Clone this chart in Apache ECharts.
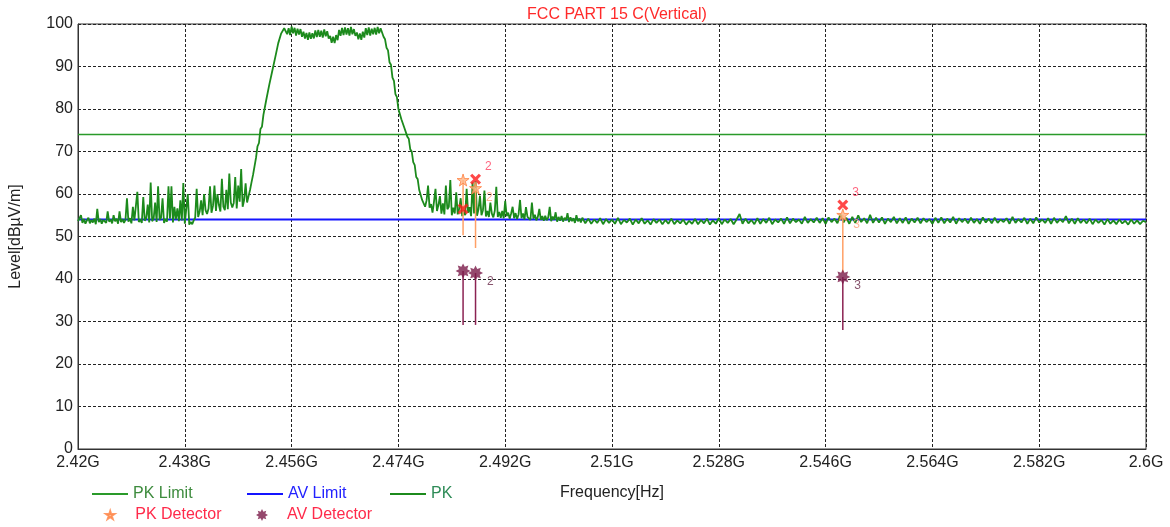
<!DOCTYPE html>
<html>
<head>
<meta charset="utf-8">
<script src="https://cdn.jsdelivr.net/npm/echarts@6/dist/echarts.min.js"></script>
<style>
html,body{margin:0;padding:0;background:#fff;}
#chart{width:1170px;height:527px;}
</style>
</head>
<body>
<div id="chart"></div>
<script>
// ---- data (frequencies in MHz, levels in dBuV/m) ----
// PK trace in four sweep segments (start MHz, step MHz, values)
const pkSegA = { start: 2420, step: 0.25 };
const pkValuesA = [
53.6, 54.3, 55.0, 53.2, 54.1, 53.0, 53.8, 54.4, 53.1, 53.9,
53.3, 54.2, 52.9, 56.5, 53.4, 54.1, 53.0, 53.9, 54.3, 53.2,
55.9, 53.5, 54.0, 53.1, 55.0, 53.6, 54.2, 53.0, 55.9, 53.4,
54.1, 53.2, 53.9, 59.0, 53.5, 54.3, 53.1, 57.0, 53.8, 54.2,
60.5, 53.4, 54.0, 53.2, 59.3, 53.7, 54.3, 57.5, 53.3, 62.7,
53.6, 54.2, 58.0, 53.4, 61.8, 53.9, 54.4, 59.0, 53.2, 54.1,
53.5, 61.8, 54.2, 61.8, 53.3, 57.0, 54.0, 56.6, 53.6, 58.5,
53.8, 62.6, 53.0, 52.7, 60.0, 52.8, 53.4, 52.9, 53.8, 54.4,
61.2, 54.6, 55.8, 58.5, 55.0, 60.0, 56.2, 55.3, 56.6, 61.8,
55.6, 57.2, 62.0, 56.0, 60.0, 57.4, 55.9, 63.6, 57.0, 56.2,
61.0, 56.4, 64.8, 58.0, 56.8, 57.9, 64.0, 56.6, 62.0, 58.2,
65.9, 57.0, 58.6, 62.5, 58.0, 59.5, 61.0, 62.8, 64.5, 66.5
];
const pkSegB = { start: 2450, step: 0.25 };
const pkValuesB = [
68.5, 71.2, 72.0, 75.3, 75.8, 78.6, 79.0, 82.3, 82.6, 85.8,
86.0, 89.0, 89.2, 92.2, 92.6, 95.5, 95.6, 97.8, 97.4, 99.0,
99.3, 97.6, 99.0, 97.4, 99.4, 97.8, 99.1, 97.3, 98.9, 97.5,
98.8, 97.0, 98.2, 96.6, 97.9, 96.3, 98.0, 96.5, 97.8, 96.6,
98.5, 96.9, 98.6, 97.0, 98.4, 96.8, 98.7, 97.1, 98.3, 96.6,
97.2, 95.6, 97.0, 95.5, 97.4, 96.2, 98.6, 97.2, 99.1, 97.4,
99.2, 97.5, 99.0, 97.3, 99.3, 97.6, 98.8, 97.2, 98.0, 96.4,
97.8, 96.3, 98.2, 96.8, 99.0, 97.4, 99.2, 97.3, 98.9, 97.6,
99.1, 97.5, 99.3, 97.8, 99.0, 98.6, 97.0, 96.4, 94.4, 93.8,
91.0, 90.4, 87.4, 86.6, 83.5, 82.8, 80.0, 79.8, 77.6, 77.4,
75.6, 75.4, 73.5, 73.0, 70.5, 70.0, 67.5, 66.8, 64.0, 63.5,
61.0, 60.6, 58.6, 58.4, 57.0, 58.5
];
const pkSegC = { start: 2479, step: 0.25 };
const pkValuesC = [
62.0, 56.8, 57.6, 55.6, 58.2, 61.2, 56.0, 57.4, 59.5, 55.4,
57.8, 55.2, 62.0, 56.4, 57.0, 63.3, 55.0, 56.8, 55.4, 60.4,
55.2, 56.6, 59.0, 54.8, 56.2, 55.0, 61.2, 55.6, 56.9, 54.8,
62.7, 55.4, 63.0, 54.9, 56.4, 59.6, 55.0, 56.2, 60.8, 54.7,
56.0, 54.6, 58.0, 55.4, 54.5, 56.1, 61.7, 54.6, 55.8, 54.4,
56.0, 54.3, 58.4, 54.8, 55.6, 54.2, 55.4, 57.0, 54.3, 55.5,
54.1, 55.2, 58.6, 54.3, 55.4, 54.0, 56.9, 54.6, 55.0, 53.9,
58.0, 54.2, 55.1, 53.8, 54.6, 56.5, 53.9, 54.8, 53.7, 54.9,
53.8, 54.5, 57.0, 53.6, 54.7, 53.9, 55.7, 53.5, 54.6, 53.7,
54.8, 53.5, 54.4, 53.8, 55.5, 53.4, 54.5, 53.6, 54.3, 53.2,
55.0, 53.6, 54.2, 53.3
];
const pkSegD = { start: 2505, step: 0.5 };
const pkValuesD = [
54.4, 53.1, 54.2, 53.0, 54.0, 53.2, 54.3, 52.9, 54.1, 53.2,
54.0, 53.0, 54.4, 52.9, 53.9, 53.3, 54.2, 52.8, 54.0, 53.1,
54.3, 53.0, 53.8, 52.8, 54.1, 53.2, 54.0, 52.9, 53.9, 53.0,
54.2, 52.9, 53.8, 53.1, 54.0, 52.8, 53.7, 53.0, 54.1, 52.9,
53.9, 53.1, 54.2, 52.8, 53.8, 53.0, 54.3, 52.9, 54.0, 53.2,
54.1, 52.9, 54.0, 55.3, 53.0, 54.2, 53.1, 53.9, 52.9, 54.3,
53.0, 54.1, 53.2, 54.4, 52.9, 54.0, 53.3, 54.2, 53.0, 54.5,
53.1, 54.2, 53.4, 54.0, 53.0, 54.6, 53.2, 54.1, 53.3, 54.4,
53.2, 54.3, 53.0, 54.5, 53.4, 54.2, 53.1, 55.2, 53.3, 54.4,
53.0, 54.6, 53.2, 55.0, 53.4, 54.3, 53.1, 55.1, 53.2, 54.4,
53.3, 54.5, 53.0, 54.2, 53.4, 54.6, 53.1, 54.3, 53.2, 54.5,
53.0, 54.2, 53.3, 54.4, 53.1, 54.3, 53.4, 54.1, 53.0, 54.4,
53.2, 54.5, 53.1, 54.2, 53.3, 54.6, 53.0, 54.3, 53.4, 54.2,
53.1, 54.4, 53.2, 54.1, 53.0, 54.5, 53.3, 54.2, 53.1, 54.4,
53.2, 54.0, 53.4, 54.3, 53.0, 54.6, 53.2, 54.1, 53.3, 54.4,
53.0, 54.2, 53.1, 54.5, 53.3, 54.0, 53.2, 54.3, 53.0, 54.4,
53.2, 54.1, 53.4, 54.8, 53.1, 54.2, 53.0, 54.3, 53.2, 54.0,
53.1, 54.2, 52.9, 54.0, 53.2, 53.9, 52.8, 54.1, 53.0, 53.8,
52.9, 54.0, 53.1, 53.7, 52.8, 54.0, 53.0, 53.8, 52.9, 53.7, 53.4
];
const limitFreqMHz = [2420, 2600];
const pkLimit = [74, 74];
const avLimit = [54, 54];
const markerFreqMHz = [2484.9, 2487.0, 2548.9];
const markerLabels = ['', '2', '3'];
const markerPeak = [56.5, 63.5, 57.4];
const pkDetector = [63.3, 61.4, 55.1];
const pkStemBottom = [50.3, 47.3, 41.5];
const avDetector = [41.9, 41.4, 40.5];
const avStemBottom = [29.2, 29.2, 28.0];
const yTicks = [0, 10, 20, 30, 40, 50, 60, 70, 80, 90, 100];

// axis works in MHz offset from the sweep start so ticks begin at 2.42G
const axisOriginMHz = 2420;
const toAxis = f => f - axisOriginMHz;

function segPoints(seg, values) {
  return values.map((v, i) => [toAxis(seg.start + i * seg.step), v]);
}
const pkPoints = [].concat(
  segPoints(pkSegA, pkValuesA), segPoints(pkSegB, pkValuesB),
  segPoints(pkSegC, pkValuesC), segPoints(pkSegD, pkValuesD));

const FONT = "'Liberation Sans', Arial, sans-serif";
const starPath = 'path://M50,0 L61,35 L98,35 L68,57 L79,91 L50,70 L21,91 L32,57 L2,35 L39,35 Z';
const burstPath = 'path://M50,0 L61.5,22.3 L85.4,14.6 L77.7,38.5 L100,50 L77.7,61.5 L85.4,85.4 L61.5,77.7 L50,100 L38.5,77.7 L14.6,85.4 L22.3,61.5 L0,50 L22.3,38.5 L14.6,14.6 L38.5,22.3 Z';
const crossPath = 'path://M20,0 L50,30 L80,0 L100,20 L70,50 L100,80 L80,100 L50,70 L20,100 L0,80 L30,50 L0,20 Z';
const lineIcon = 'path://M0,0 L36,0 L36,2 L0,2 Z';

function stemSeries(tops, bottoms, color) {
  return {
    type: 'custom',
    silent: true,
    z: 3,
    encode: { x: 0, y: [1, 2] },
    data: markerFreqMHz.map((f, i) => [toAxis(f), tops[i], bottoms[i]]),
    renderItem: (params, api) => {
      const p1 = api.coord([api.value(0), api.value(1)]);
      const p2 = api.coord([api.value(0), api.value(2)]);
      return { type: 'line', shape: { x1: p1[0], y1: p1[1], x2: p2[0], y2: p2[1] },
               style: { stroke: color, lineWidth: 1.5 } };
    }
  };
}

function markerData(values) {
  return markerFreqMHz.map((f, i) => ({ value: [toAxis(f), values[i]], lbl: markerLabels[i] }));
}

const chart = echarts.init(document.getElementById('chart'));
const legendBase = { orient: 'horizontal', padding: 0, selectedMode: false, symbolKeepAspect: true,
  textStyle: { fontFamily: FONT, fontSize: 16 } };

chart.setOption({
  animation: false,
  backgroundColor: '#ffffff',
  textStyle: { fontFamily: FONT },
  title: {
    text: 'FCC PART 15 C(Vertical)',
    left: 612, top: 2, textAlign: 'center',
    textStyle: { color: '#ff2a2a', fontSize: 16, fontWeight: 'normal', fontFamily: FONT }
  },
  grid: { left: 78, right: 24, top: 24, bottom: 78, show: true, borderColor: '#333', borderWidth: 1, backgroundColor: '#fff' },
  legend: [
    Object.assign({}, legendBase, { left: 92, top: 486, itemWidth: 36, itemHeight: 14,
      data: [{ name: 'PK Limit', icon: lineIcon, textStyle: { color: '#3d8b3d' } }] }),
    Object.assign({}, legendBase, { left: 247, top: 486, itemWidth: 36, itemHeight: 14,
      data: [{ name: 'AV Limit', icon: lineIcon, textStyle: { color: '#2222ff' } }] }),
    Object.assign({}, legendBase, { left: 390, top: 486, itemWidth: 36, itemHeight: 14,
      data: [{ name: 'PK', icon: lineIcon, textStyle: { color: '#2e8b57' } }] }),
    Object.assign({}, legendBase, { left: 105, top: 507, itemWidth: 40, itemHeight: 8,
      data: [{ name: 'PK Detector', icon: starPath, textStyle: { color: '#ff2a4a' } }] }),
    Object.assign({}, legendBase, { left: 256, top: 507, itemWidth: 40, itemHeight: 12,
      data: [{ name: 'AV Detector', icon: burstPath, textStyle: { color: '#ff2a4a' } }] })
  ],
  xAxis: {
    type: 'value',
    min: 0, max: 180, interval: 18,
    name: 'Frequency[Hz]', nameLocation: 'middle', nameGap: 36,
    nameTextStyle: { color: '#222', fontSize: 16, fontFamily: FONT },
    axisLine: { show: true, lineStyle: { color: '#333', width: 1 } },
    axisTick: { show: false },
    axisLabel: {
      color: '#222', fontSize: 16, fontFamily: FONT, margin: 6,
      showMinLabel: true, showMaxLabel: true,
      formatter: v => (+((axisOriginMHz + v) / 1000).toFixed(3)) + 'G'
    },
    splitLine: { show: true, lineStyle: { color: '#222', type: [3, 2], width: 1 } }
  },
  yAxis: {
    type: 'value',
    min: yTicks[0], max: yTicks[yTicks.length - 1], interval: 10,
    name: 'Level[dBµV/m]', nameLocation: 'middle', nameGap: 54,
    nameTextStyle: { color: '#222', fontSize: 16, fontFamily: FONT },
    axisLine: { show: true, lineStyle: { color: '#333', width: 1 } },
    axisTick: { show: false },
    axisLabel: { color: '#222', fontSize: 16, fontFamily: FONT, margin: 5 },
    splitLine: { show: true, lineStyle: { color: '#222', type: [3, 2], width: 1 } }
  },
  series: [
    {
      name: 'PK Limit', type: 'line', symbol: 'none', silent: true, z: 2,
      lineStyle: { color: '#2a9a2a', width: 1.6 }, itemStyle: { color: '#2a9a2a' },
      data: limitFreqMHz.map((f, i) => [toAxis(f), pkLimit[i]])
    },
    {
      name: 'AV Limit', type: 'line', symbol: 'none', silent: true, z: 2,
      lineStyle: { color: '#1414ff', width: 2 }, itemStyle: { color: '#1414ff' },
      data: limitFreqMHz.map((f, i) => [toAxis(f), avLimit[i]])
    },
    {
      name: 'PK', type: 'line', symbol: 'none', silent: true, z: 2, sampling: null,
      lineStyle: { color: '#1c8a1c', width: 1.8 }, itemStyle: { color: '#1c8a1c' },
      data: pkPoints
    },
    stemSeries(pkDetector, pkStemBottom, '#ffa066'),
    stemSeries(avDetector, avStemBottom, '#8b2252'),
    {
      name: 'PK Detector', type: 'scatter', symbol: starPath, symbolSize: 12, z: 5,
      itemStyle: { color: '#ffb585', borderColor: '#ff8040', borderWidth: 1 },
      label: { show: true, position: 'right', distance: 4, offset: [0, 10],
        formatter: p => p.data.lbl, color: '#ffa07a', fontSize: 12, fontFamily: FONT },
      data: markerData(pkDetector)
    },
    {
      name: 'AV Detector', type: 'scatter', symbol: burstPath, symbolSize: 15, z: 5,
      itemStyle: { color: '#7a1a48' },
      label: { show: true, position: 'right', distance: 4, offset: [0, 9],
        formatter: p => p.data.lbl, color: '#6a2a4a', fontSize: 12, fontFamily: FONT },
      data: markerData(avDetector)
    },
    {
      name: 'Marker', type: 'scatter', symbol: crossPath, symbolSize: 11, z: 6,
      itemStyle: { color: '#ff1a1a' },
      label: { show: true, position: 'right', distance: 4, offset: [0, -12],
        formatter: p => p.data.lbl, color: '#ff4060', fontSize: 12, fontFamily: FONT },
      data: markerData(markerPeak)
    }
  ]
});
</script>
</body>
</html>
